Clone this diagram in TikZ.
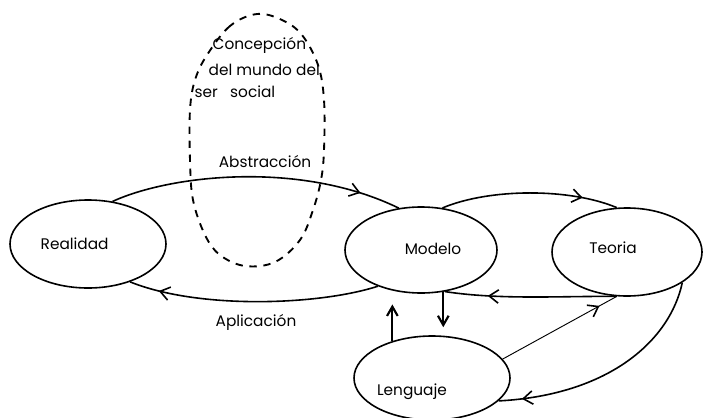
\documentclass[tikz,border=0pt]{standalone}
\usepackage{fontspec}
\setmainfont{Poppins}
\usetikzlibrary{shapes.geometric,arrows.meta,decorations.markings,calc}
\begin{document}
\begin{tikzpicture}[x=0.75pt,y=-0.75pt,
  every node/.style={font=\fontsize{11.5}{13}\selectfont},
  ell/.style={draw, ellipse, line width=1.2pt, inner sep=0pt},
  conn/.style={line width=1.2pt},
  thinconn/.style={line width=0.7pt},
  barb/.tip={Straight Barb[length=7pt,width=10pt,line width=1.2pt]},
  vbarb/.tip={Straight Barb[length=7pt,width=8pt,line width=1.6pt]},
  midarrow/.style={postaction={decorate},decoration={markings,mark=at position #1 with {\arrow{barb}}}},
  loopline/.style={dash pattern=on 5.5pt off 5pt, line width=1.4pt}
]
\useasboundingbox (0,0) rectangle (705,417);

% ellipses
\node[ell, minimum width=117pt, minimum height=66pt, label={[xshift=-10pt]center:Realidad}] (real) at (88,244) {};
\node[ell, minimum width=114pt, minimum height=64.5pt, label={[xshift=9pt,yshift=1pt]center:Modelo}] (mod) at (421,250) {};
\node[ell, minimum width=112.5pt, minimum height=66pt, label={[xshift=-10.5pt,yshift=3pt]center:Teoria}] (teo) at (627,252) {};
\node[ell, minimum width=117pt, minimum height=63pt, label={[xshift=-15pt,yshift=-10pt]center:Lenguaje}] (lang) at (432,378) {};

% dashed loop
\draw[loopline] plot[smooth cycle, tension=0.6] coordinates {
  (257,14) (230,26) (207,55) (195,80) (190,110) (190,160) (193,200)
  (205,235) (220,255) (245,266) (275,262) (300,240) (313,210) (321,180)
  (324,150) (324,100) (318,65) (302,35) (282,20)};
\node[anchor=west] (c1) at (208,45) {Concepción};
\node[anchor=west] (c2) at (204,70) {del mundo del};
\node[anchor=west] (c3) at (190,92) {ser\hspace{0.8em}social};

% connectors
\draw[conn, midarrow=0.86] (real.60) .. controls (170,175) and (300,160) .. (mod.118);
\node (abs) at (265,162) {Abstracción};
\draw[conn, midarrow=0.88] (mod.220) .. controls (320,305) and (200,310) .. (real.318);
\node (apl) at (256,322) {Aplicación};

\draw[conn, midarrow=0.8] (mod.63) .. controls (490,188) and (570,188) .. (teo.103);
\draw[conn, midarrow=0.75] (teo.257) .. controls (560,296) and (500,300) .. (mod.300);

\draw[conn, line width=1.5pt, -{vbarb}, shorten >=6pt] (mod.298) -- (mod.298 |- lang.north);
\draw[conn, line width=1.5pt, -{vbarb}, shorten >=8pt] (lang.137) -- (lang.137 |- mod.south);

\draw[thinconn, midarrow=0.85] (lang.15) -- (teo.257);
\draw[conn, midarrow=0.9] (teo.331) .. controls (670,340) and (610,395) .. (lang.341);
\end{tikzpicture}
\end{document}
